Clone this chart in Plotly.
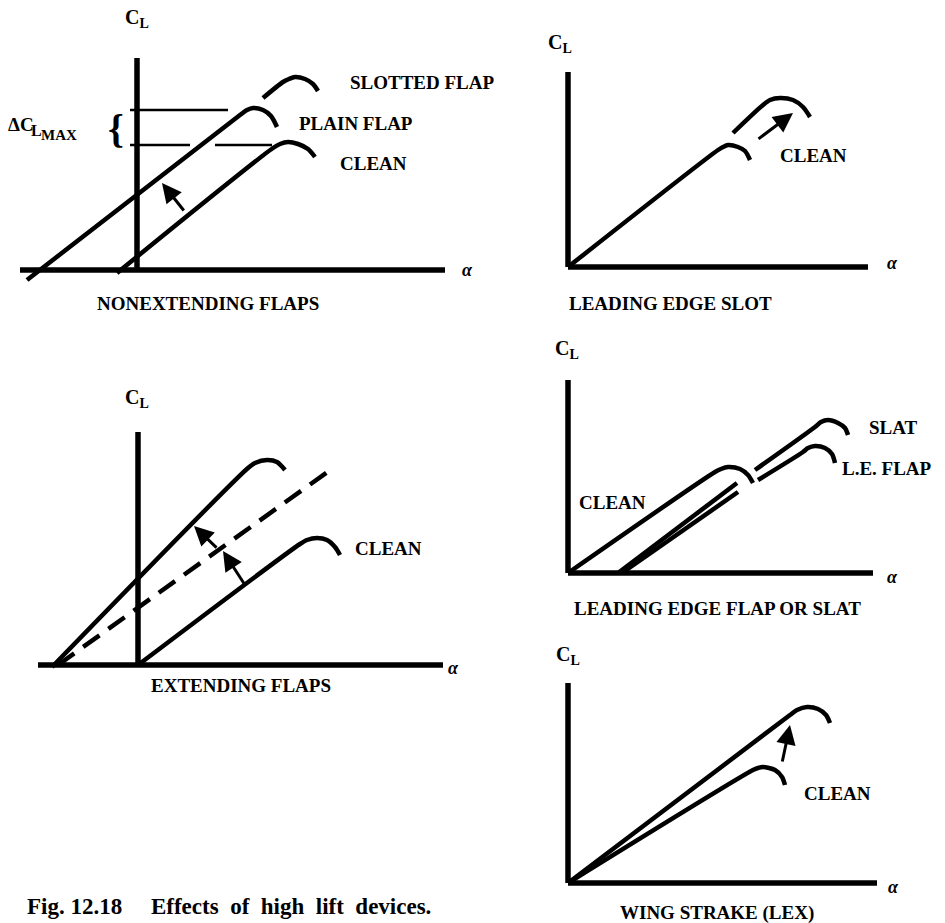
import plotly.graph_objects as go

W, H = 945, 923
PAD = 8  # default page margin around the plot div
FW, FH = W - PAD, H - PAD
FONT = "Liberation Serif"
INK = "black"

# ---- data (alpha, C_L in panel units, origin where the axes cross) ----

# nonextending flaps
ne_alpha_axis = [-117, 308]
ne_cl_axis = [0, 212]
ne_clean_a = [-20, 136, 143, 151, 161, 171, 178]
ne_clean_c = [-3, 122, 126, 128, 126, 121, 113]
ne_plain_a = [-110, 103, 110, 116, 126, 134, 140]
ne_plain_c = [-10, 155, 160, 162, 160, 154, 143]
ne_slotted_a = [126, 146, 152, 158, 168, 176, 181]
ne_slotted_c = [172, 188, 191, 193, 191, 186, 179]
ne_clmax_plain = 160
ne_clmax_clean = 125
ne_clmax_plain_a = [-7, 91]
ne_clmax_clean_a = [[-7, 53], [78, 135]]
ne_arrow = [(48, 58, 25, 87)]

# leading edge slot
ls_alpha_axis = [0, 300]
ls_cl_axis = [0, 195]
ls_clean_a = [0, 150, 155, 160, 170, 177, 182]
ls_clean_c = [0, 117, 120, 122, 120, 116, 107]
ls_slot_a = [165, 195, 202, 212, 225, 235, 242]
ls_slot_c = [134, 162, 167, 169, 167, 160, 150]
ls_arrow = [(189, 127, 225, 154)]

# extending flaps
ef_alpha_axis = [-100, 305]
ef_cl_axis = [0, 233]
ef_clean_a = [0, 162, 169, 179, 189, 197, 202]
ef_clean_c = [0, 121, 125, 127, 125, 118, 110]
ef_flap_a = [-86, 110, 117, 129, 139, 147]
ef_flap_c = [-2, 197, 202, 205, 203, 195]
ef_dash_a = [-80, 195]
ef_dash_c = [0, 197]
ef_arrows = [(80, 116, 56, 139), (107, 80, 85, 114)]

# leading edge flap or slat
lf_alpha_axis = [0, 305]
lf_cl_axis = [0, 193]
lf_clean_a = [0, 147, 153, 160, 172, 180, 185]
lf_clean_c = [0, 101, 104, 106, 104, 98, 90]
lf_slat1_a = [50, 169]
lf_slat1_c = [0, 90]
lf_slat2_a = [187, 247, 253, 260, 270, 277, 280]
lf_slat2_c = [103, 146, 151, 153, 150, 145, 138]
lf_flap1_a = [54, 170]
lf_flap1_c = [0, 81]
lf_flap2_a = [190, 235, 240, 247, 257, 264, 267]
lf_flap2_c = [93, 121, 125, 127, 125, 119, 110]

# wing strake (LEX)
lx_alpha_axis = [0, 309]
lx_cl_axis = [0, 200]
lx_lex_a = [0, 222, 229, 239, 250, 258, 262]
lx_lex_c = [0, 168, 173, 176, 174, 168, 160]
lx_clean_a = [0, 185, 190, 195, 207, 214, 217]
lx_clean_c = [0, 113, 115, 116, 113, 106, 98]
lx_arrow = [(214, 120, 222, 158)]

# ---- layout: where each panel's origin sits on the page (px) ----
origins = [(137, 270), (568, 267), (138, 665), (568, 573), (568, 883)]

fig = go.Figure()


def ax_names(n):
    s = "" if n == 1 else str(n)
    return "x" + s, "y" + s


for n, (px, py) in enumerate(origins, start=1):
    ox, oy = px - PAD, py - PAD
    x0, x1 = max(0, ox - 150), min(FW, ox + 360)
    y0, y1 = max(0, oy - 300), min(FH, oy + 60)
    xr, yr = ax_names(n)
    suf = "" if n == 1 else str(n)
    fig.layout["xaxis" + suf] = dict(
        domain=[x0 / FW, x1 / FW], range=[x0 - ox, x1 - ox], visible=False,
        anchor=yr, fixedrange=True)
    fig.layout["yaxis" + suf] = dict(
        domain=[1 - y1 / FH, 1 - y0 / FH], range=[oy - y1, oy - y0], visible=False,
        anchor=xr, fixedrange=True)


def line(n, a, c, width=4.5, dash=None, shape="spline"):
    xr, yr = ax_names(n)
    fig.add_trace(go.Scatter(
        x=a, y=c, mode="lines", xaxis=xr, yaxis=yr, hoverinfo="skip",
        line=dict(color=INK, width=width, dash=dash, shape=shape, smoothing=0.8),
        showlegend=False))


def axes(n, alpha_axis, cl_axis):
    line(n, alpha_axis, [0, 0], width=5.5, shape="linear")
    line(n, [0, 0], cl_axis, width=5.5, shape="linear")


def label(n, text, a, c, size=19, xanchor="center", weight="bold", style="normal"):
    xr, yr = ax_names(n)
    fig.add_annotation(x=a, y=c, xref=xr, yref=yr, text=text, showarrow=False,
                       xanchor=xanchor, yanchor="middle",
                       font=dict(family=FONT, size=size, color=INK, weight=weight, style=style))


def arrows(n, lst):
    xr, yr = ax_names(n)
    for ta, tc, ha, hc in lst:
        fig.add_annotation(x=ha, y=hc, ax=ta, ay=tc, xref=xr, yref=yr, axref=xr, ayref=yr,
                           text="", showarrow=True, arrowhead=2, arrowsize=1.3,
                           arrowwidth=3, arrowcolor=INK, standoff=0)


def cl_label(n, a, c):
    label(n, "C<sub>L</sub>", a, c, size=20)


def alpha_label(n, a, c):
    label(n, "α", a, c, size=18, style="italic")


# panel 1: nonextending flaps
axes(1, ne_alpha_axis, ne_cl_axis)
line(1, ne_clean_a, ne_clean_c)
line(1, ne_plain_a, ne_plain_c)
line(1, ne_slotted_a, ne_slotted_c)
line(1, ne_clmax_plain_a, [ne_clmax_plain] * 2, width=2.5, shape="linear")
for seg in ne_clmax_clean_a:
    line(1, seg, [ne_clmax_clean] * 2, width=2.5, shape="linear")
arrows(1, ne_arrow)
label(1, "{", -21, 142, size=40)
label(1, "ΔC", -101, 146, xanchor="right")
label(1, "L", -108, 140, size=16, xanchor="left")
label(1, "MAX", -98, 135, size=15, xanchor="left")
cl_label(1, 0, 252)
alpha_label(1, 330, 0)
label(1, "SLOTTED FLAP", 285, 188)
label(1, "PLAIN FLAP", 219, 147)
label(1, "CLEAN", 236, 107)
label(1, "NONEXTENDING FLAPS", 71, -33)

# panel 2: leading edge slot
axes(2, ls_alpha_axis, ls_cl_axis)
line(2, ls_clean_a, ls_clean_c)
line(2, ls_slot_a, ls_slot_c)
arrows(2, ls_arrow)
cl_label(2, -8, 224)
alpha_label(2, 324, 4)
label(2, "CLEAN", 245, 112)
label(2, "LEADING EDGE SLOT", 102, -36)

# panel 3: extending flaps
axes(3, ef_alpha_axis, ef_cl_axis)
line(3, ef_clean_a, ef_clean_c)
line(3, ef_flap_a, ef_flap_c)
line(3, ef_dash_a, ef_dash_c, dash="20px,11px", shape="linear")
arrows(3, ef_arrows)
cl_label(3, -1, 267)
alpha_label(3, 315, -3)
label(3, "CLEAN", 250, 117)
label(3, "EXTENDING FLAPS", 103, -20)

# panel 4: leading edge flap or slat
axes(4, lf_alpha_axis, lf_cl_axis)
line(4, lf_clean_a, lf_clean_c)
line(4, lf_slat1_a, lf_slat1_c, shape="linear")
line(4, lf_slat2_a, lf_slat2_c)
line(4, lf_flap1_a, lf_flap1_c, shape="linear")
line(4, lf_flap2_a, lf_flap2_c)
cl_label(4, -1, 224)
alpha_label(4, 324, -4)
label(4, "SLAT", 325, 146)
label(4, "L.E. FLAP", 319, 105)
label(4, "CLEAN", 44, 71)
label(4, "LEADING EDGE FLAP OR SLAT", 149, -35)

# panel 5: wing strake
axes(5, lx_alpha_axis, lx_cl_axis)
line(5, lx_lex_a, lx_lex_c)
line(5, lx_clean_a, lx_clean_c)
arrows(5, lx_arrow)
cl_label(5, 0, 228)
alpha_label(5, 325, -4)
label(5, "CLEAN", 269, 90)
label(5, "WING STRAKE (LEX)", 149, -30)

# caption
sp = "\u00a0"
fig.add_annotation(x=(25 - PAD) / FW, y=1 - (906 - PAD) / FH, xref="paper", yref="paper",
                   xanchor="left", yanchor="middle", showarrow=False,
                   text="Fig. 12.18" + sp * 5 + ("  ".join(["Effects", "of", "high", "lift", "devices."])),
                   font=dict(family=FONT, size=23, color=INK, weight="bold"))

fig.update_layout(width=FW, height=FH, margin=dict(l=0, r=0, t=0, b=0),
                  paper_bgcolor="white", plot_bgcolor="rgba(0,0,0,0)",
                  showlegend=False)

fig.write_html("out.html")
